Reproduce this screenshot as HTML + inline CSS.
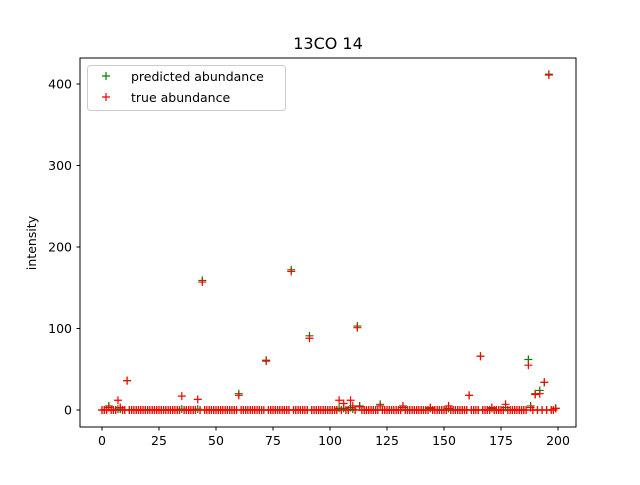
<!DOCTYPE html>
<html><head><meta charset="utf-8"><style>
body{margin:0;background:#fff;font-family:"Liberation Sans","DejaVu Sans",sans-serif}
</style></head><body>
<svg id="c" width="640" height="480" xmlns="http://www.w3.org/2000/svg" font-family="DejaVu Sans, Liberation Sans, sans-serif">
<rect width="640" height="480" fill="#fff"/>
<text x="328" y="49" text-anchor="middle" font-size="16">13CO 14</text>
<text transform="translate(36,243) rotate(-90)" text-anchor="middle" font-size="12.5">intensity</text>
<g id="xt"></g>
<g id="yt"></g>
<g id="pred"></g>
<g id="tru"></g>
<rect x="80" y="58" width="496" height="369" fill="none" stroke="#000" stroke-width="1"/>
<g>
<rect x="87.5" y="65.5" width="198" height="45" rx="3" fill="#fff" fill-opacity="0.8" stroke="#ccc"/>
<g>
<path d="M102 76h8M106 72v8" stroke="green" stroke-width="1.2"/>
<text x="131" y="81" font-size="12.5">predicted abundance</text></g>
<g>
<path d="M102 97h8M106 93v8" stroke="red" stroke-width="1.2"/>
<text x="131" y="102" font-size="12.5">true abundance</text></g>
</g>
</svg>
<script>
const N = 200;
const spikeIdx  = [3, 7, 8, 11, 35, 42, 44, 60, 72, 83, 91, 104, 106, 109, 110, 112, 113, 122, 132, 144, 152, 161, 166, 171, 177, 187, 188, 190, 192, 194, 196, 199];
const predVals  = [5, 1, 1, 36, 1, 1, 159, 20, 61, 172, 91, 2, 2, 3, 1, 103, 5, 7, 3, 2, 2, 18, 66, 2, 3, 62, 5, 20, 24, 34, 412, 2];
const trueVals  = [3, 12, 3, 36, 17, 13, 157, 18, 60, 170, 88, 12, 8, 12, 5, 101, 4, 5, 5, 3, 5, 18, 66, 3, 7, 55, 3, 19, 20, 34, 411, 2];
const xTicks = [0, 25, 50, 75, 100, 125, 150, 175, 200];
const yTicks = [0, 100, 200, 300, 400];
const X = v => 102 + v * 2.28;
const Y = v => 410 - v * 0.815;
const ns = 'http://www.w3.org/2000/svg';
function mk(tag, attrs, parent){const e=document.createElementNS(ns,tag);for(const k in attrs)e.setAttribute(k,attrs[k]);parent.appendChild(e);return e;}
const xt=document.getElementById('xt'), yt=document.getElementById('yt');
xTicks.forEach(t=>{
  const l=mk('line',{x1:X(t),x2:X(t),y1:427,y2:430.5,stroke:'#000'},xt);
  
  
  const s=mk('text',{x:X(t),y:445,'text-anchor':'middle','font-size':'12.5'},xt);
  s.textContent=t;
  
  
});
yTicks.forEach(t=>{
  const l=mk('line',{x1:76.5,x2:80,y1:Y(t),y2:Y(t),stroke:'#000'},yt);
  
  
  const s=mk('text',{x:72,y:Y(t)+4.5,'text-anchor':'end','font-size':'12.5'},yt);
  s.textContent=t;
  
  
});
function series(vals){const a=new Array(N).fill(0);spikeIdx.forEach((i,k)=>a[i]=vals[k]);return a;}
function draw(gid, vals, color, name){
  const g=document.getElementById(gid);
  series(vals).forEach((v,i)=>{
    const x=X(i), y=Y(v);
    const p=mk('path',{d:`M${x-4} ${y}h8M${x} ${y-4}v8`,stroke:color,'stroke-width':'1.2',fill:'none'},g);
    
    
  });
}
draw('pred', predVals, 'green', 'predicted-point');
draw('tru', trueVals, 'red', 'true-point');
</script>
</body></html>
